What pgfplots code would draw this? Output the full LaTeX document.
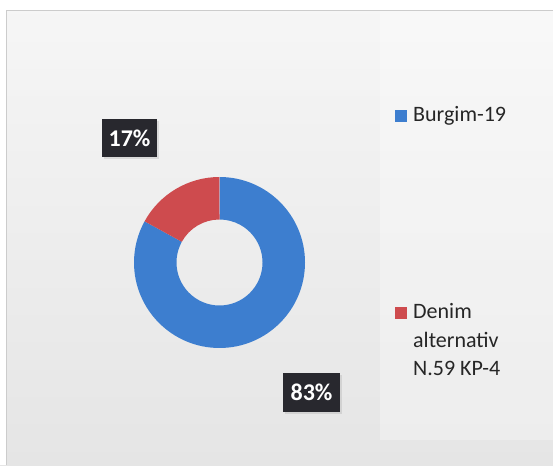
\documentclass[border=0pt]{standalone}
\usepackage{pgfplots}
\pgfplotsset{compat=1.18}
\usepackage{pgfplotstable}
\usetikzlibrary{shadows}
\usepackage{fontspec}
\setmainfont{Carlito}
\definecolor{donutblue}{RGB}{61,126,207}
\definecolor{donutred}{RGB}{206,75,78}
\definecolor{boxdark}{RGB}{40,40,46}
\definecolor{bgtop}{RGB}{246,246,246}
\definecolor{bgbot}{RGB}{229,229,229}

\pgfplotstableread{
label value
Burgim-19 83
Denim 17
}\donutdata

\begin{document}%
\begin{tikzpicture}
\pgfplotstablegetelem{0}{value}\of\donutdata
\pgfmathsetmacro\va{\pgfplotsretval}
\pgfplotstablegetelem{1}{value}\of\donutdata
\pgfmathsetmacro\vb{\pgfplotsretval}
\pgfmathsetmacro\total{\va+\vb}
\pgfmathsetmacro\angB{90-360*(\va/\total)}
\pgfmathsetmacro\angEnd{\angB-360*(\vb/\total)}
\begin{axis}[x=1pt,y=1pt,xmin=0,xmax=553,ymin=0,ymax=465,
  axis lines=none, ticks=none, clip=false, axis line style={draw=none}]
% background
\shade[top color=bgtop,bottom color=bgbot] (axis cs:0,0) rectangle (axis cs:553,465);
\fill[white,opacity=0.3] (axis cs:380,25) rectangle (axis cs:553,455);
\fill[white] (axis cs:0,455) rectangle (axis cs:553,465);
\fill[white] (axis cs:0,0) rectangle (axis cs:6,465);
\draw[black!20,line width=0.8pt] (axis cs:6,0) -- (axis cs:6,455) -- (axis cs:553,455);
% donut
\coordinate (C) at (axis cs:219.5,202.5);
\fill[donutblue] (C) ++(90:85.5pt) arc[start angle=90,end angle=\angB,radius=85.5pt]
  -- ++(\angB:-42.5pt) arc[start angle=\angB,end angle=90,radius=43pt] -- cycle;
\fill[donutred] (C) ++(\angB:85.5pt) arc[start angle=\angB,end angle=\angEnd,radius=85.5pt]
  -- ++(\angEnd:-42.5pt) arc[start angle=\angEnd,end angle=\angB,radius=43pt] -- cycle;
% data labels
\node[fill=boxdark,text=white,font=\fontsize{24}{26}\selectfont\bfseries,
  minimum width=55pt,minimum height=38pt,inner sep=0pt,
  drop shadow={opacity=0.2}] at (axis cs:129.5,327) {17\%};
\node[fill=boxdark,text=white,font=\fontsize{24}{26}\selectfont\bfseries,
  minimum width=57pt,minimum height=39pt,inner sep=0pt,
  drop shadow={opacity=0.2}] at (axis cs:311.5,72.5) {83\%};
% legend
\fill[donutblue] (axis cs:395,343) rectangle (axis cs:407,355);
\node[anchor=base west,inner sep=0pt,font=\fontsize{22}{28.5}\selectfont,text=black!85]
  at (axis cs:413,343) {Burgim-19};
\fill[donutred] (axis cs:395,146) rectangle (axis cs:407,158);
\node[anchor=base west,inner sep=0pt,font=\fontsize{22}{28.5}\selectfont,text=black!85,
  align=left] at (axis cs:413,89) {Denim\\alternativ\\N.59 KP-4};
\end{axis}
\pgfresetboundingbox
\path[use as bounding box] (current axis.south west) rectangle (current axis.north east);
\end{tikzpicture}%
\end{document}
